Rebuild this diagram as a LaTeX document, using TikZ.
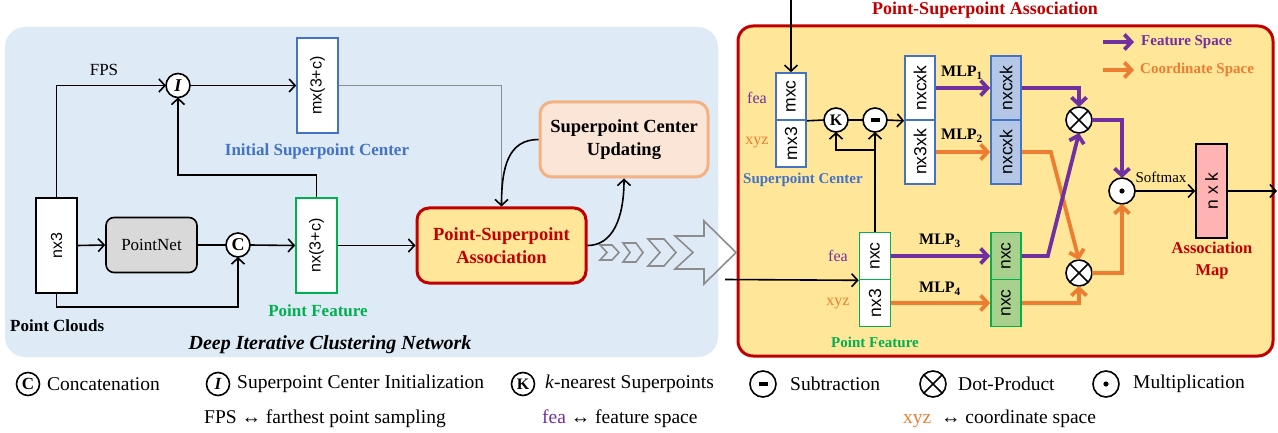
\documentclass[tikz,border=0pt]{standalone}
\usepackage{fontspec}
\setmainfont{Liberation Serif}
\setsansfont{Liberation Sans}
\usetikzlibrary{arrows.meta,calc}
\definecolor{bgblue}{HTML}{DEEBF7}
\definecolor{pyellow}{HTML}{FFE699}
\definecolor{dred}{HTML}{C00000}
\definecolor{cblue}{HTML}{4472C4}
\definecolor{cgreen}{HTML}{00B050}
\definecolor{cpurple}{HTML}{7030A0}
\definecolor{corange}{HTML}{ED7D31}
\definecolor{pgray}{HTML}{D9D9D9}
\definecolor{scufill}{HTML}{FBE5D6}
\definecolor{scudraw}{HTML}{F4B183}
\definecolor{bfill}{HTML}{B4C7E7}
\definecolor{gfill}{HTML}{A9D18E}
\definecolor{pinkf}{HTML}{FFB3B3}
\definecolor{lgray}{HTML}{8C8C8C}
\newcommand\fz[2]{\fontsize{#1}{#2}\selectfont}
\newcommand\rt[1]{\rotatebox{90}{#1}}
\begin{document}
\begin{tikzpicture}[x=1pt,y=-1pt,
  box/.style={draw, line width=1.6pt, fill=white, inner sep=0pt, font=\sffamily\fz{16}{19}},
  lbl/.style={inner sep=0pt},
  circ/.style={circle, draw, line width=1.6pt, fill=white, minimum size=24pt, inner sep=0pt, outer sep=0pt},
  ln/.style={line width=1.6pt},
  arr/.style={line width=1.6pt, -{Straight Barb[length=6pt,width=13pt]}},
  farr/.style={line width=3.8pt, -{Straight Barb[length=7pt,width=15pt]}},
  leg/.style={inner sep=0pt, anchor=west, font=\fz{19.5}{23}}
]
\useasboundingbox (0,0) rectangle (1278,433);
% panels
\fill[bgblue, rounded corners=20pt] (5,27) rectangle (718,357);
\draw[line width=3pt, draw=dred, fill=pyellow, rounded corners=15pt] (738,26) rectangle (1273,356);
\node[lbl, text=dred, font=\bfseries\fz{18}{21}] (ttl) at (985,10) {Point-Superpoint Association};

% ---------- left panel ----------
\node[box, minimum width=41pt, minimum height=95pt] (pc) at (56.5,245.5) {\rt{nx3}};
\node[lbl, anchor=west, font=\bfseries\fz{17}{20}] (pcl) at (10,326) {Point Clouds};
\node[circ, font=\bfseries\itshape\fz{18}{20}] (ci) at (178,85.5) {I};
\node[lbl, font=\fz{17}{20}] (fpsl) at (104,70) {FPS};
\node[box, draw=cblue, minimum width=41pt, minimum height=95pt] (msc) at (317.5,85.5) {\rt{mx(3+c)}};
\node[lbl, text=cblue, font=\bfseries\fz{17}{20}] (iscl) at (317,151) {Initial Superpoint Center};
\node[draw, rounded corners=8pt, fill=pgray, line width=1.6pt, minimum width=91pt, minimum height=55pt, inner sep=0pt, font=\fz{17}{20}] (pn) at (151.5,245) {PointNet};
\node[circ, font=\bfseries\fz{18}{20}] (cc) at (238,245) {C};
\node[box, draw=cgreen, minimum width=41pt, minimum height=95pt] (pf) at (316.5,245.5) {\rt{nx(3+c)}};
\node[lbl, text=cgreen, font=\bfseries\fz{17}{20}] (pfl) at (318,311) {Point Feature};
\node[draw=dred, fill=pyellow, line width=3pt, rounded corners=12pt, minimum width=169pt, minimum height=75pt, inner sep=0pt, align=center, text=dred, font=\bfseries\fz{18.5}{23}] (psa) at (501.5,245.5) {Point-Superpoint\\Association};
\node[draw=scudraw, fill=scufill, line width=3pt, rounded corners=12pt, minimum width=168pt, minimum height=75pt, inner sep=0pt, align=center, font=\bfseries\fz{18.5}{23}] (scu) at (624,139.5) {Superpoint Center\\Updating};
\node[lbl, font=\bfseries\itshape\fz{20}{23}] (dicn) at (330,345) {Deep Iterative Clustering Network};

\draw[arr] (pc.north) |- (ci.west);
\draw[arr] (ci.east) -- (msc.west);
\draw[ln, draw=lgray] (msc.east) -| (psa.north);
\draw[arr] (scu.west) .. controls +(-30,0) and +(0,-40) .. (psa.north);
\draw[arr] (psa.east) .. controls +(25,0) and +(0,40) .. (scu.south);
\draw[arr] (pc.east) -- (pn.west);
\draw[ln] (pn.east) -- (cc.west);
\draw[arr] (pc.south) -- ++(0,13) -| (cc.south);
\draw[arr] (cc.east) -- (pf.west);
\draw[arr] (pf.north) -- ++(0,-22) -| (ci.south);
\draw[arr] (pf.east) -- (psa.west);

% chevrons
\begin{scope}[draw=lgray, line width=1.6pt, line join=miter]
\draw (600,245) -- (612,245) -- (619,252.5) -- (612,260) -- (600,260) -- (607,252.5) -- cycle;
\draw (623,243) -- (636,243) -- (643,252.5) -- (636,262) -- (623,262) -- (630,252.5) -- cycle;
\draw (648,239) -- (664,239) -- (676,252.5) -- (664,266) -- (648,266) -- (660,252.5) -- cycle;
\draw (675,236) -- (704,236) -- (704,221) -- (736,252.5) -- (704,284) -- (704,269) -- (675,269) -- (693,252.5) -- cycle;
\end{scope}

% ---------- right panel ----------
\node[box, draw=cblue, minimum width=30pt, minimum height=47pt, font=\sffamily\fz{17.5}{20}] (mxc) at (791,96.5) {\rt{mxc}};
\node[box, draw=cblue, minimum width=30pt, minimum height=47pt, font=\sffamily\fz{17.5}{20}] (mx3) at (791,143.5) {\rt{mx3}};
\coordinate (topin) at (791,0);
\node[lbl, text=cpurple, font=\fz{16}{19}] (fea1) at (757,98) {fea};
\node[lbl, text=corange, font=\fz{16}{19}] (xyz1) at (757,143) {xyz};
\node[lbl, text=cblue, font=\bfseries\fz{15}{18}] (spcl) at (803,180) {Superpoint Center};
\node[circ, font=\bfseries\fz{16}{19}] (kk) at (836,120) {K};
\node[circ] (mm) at (875,120) {\rule{9pt}{3.5pt}};

\node[box, draw=cblue, minimum width=30pt, minimum height=64pt, font=\sffamily\fz{17.5}{20}] (b1) at (920,88) {\rt{nxcxk}};
\node[box, draw=cblue, minimum width=30pt, minimum height=64pt, font=\sffamily\fz{17.5}{20}] (b2) at (920,152) {\rt{nx3xk}};
\node[box, draw=cblue, fill=bfill, minimum width=30pt, minimum height=64pt, font=\sffamily\fz{17.5}{20}] (b3) at (1006,88) {\rt{nxcxk}};
\node[box, draw=cblue, fill=bfill, minimum width=30pt, minimum height=64pt, font=\sffamily\fz{17.5}{20}] (b4) at (1006,152) {\rt{nxcxk}};

\node[box, draw=cgreen, minimum width=31pt, minimum height=47pt, font=\sffamily\fz{17.5}{20}] (pa) at (875,256) {\rt{nxc}};
\node[box, draw=cgreen, minimum width=31pt, minimum height=47pt, font=\sffamily\fz{17.5}{20}] (pb) at (875,303) {\rt{nx3}};
\node[lbl, text=cpurple, font=\fz{16}{19}] (fea2) at (838,256) {fea};
\node[lbl, text=corange, font=\fz{16}{19}] (xyz2) at (838,304) {xyz};
\node[lbl, text=cgreen, font=\bfseries\fz{15}{18}] (pfl2) at (875,342) {Point Feature};

\node[box, draw=cgreen, fill=gfill, minimum width=30pt, minimum height=47pt, font=\sffamily\fz{17.5}{20}] (g1) at (1006,256) {\rt{nxc}};
\node[box, draw=cgreen, fill=gfill, minimum width=30pt, minimum height=47pt, font=\sffamily\fz{17.5}{20}] (g2) at (1006,303) {\rt{nxc}};

\node[lbl, font=\bfseries\fz{16}{19}] (mlp1) at (962,73) {MLP\textsubscript{1}};
\node[lbl, font=\bfseries\fz{16}{19}] (mlp2) at (962,136) {MLP\textsubscript{2}};
\node[lbl, font=\bfseries\fz{16}{19}] (mlp3) at (940,241) {MLP\textsubscript{3}};
\node[lbl, font=\bfseries\fz{16}{19}] (mlp4) at (940,289) {MLP\textsubscript{4}};

\node[circ, minimum size=26pt] (o1) at (1079,120) {};
\node[circ, minimum size=26pt] (o2) at (1079,273) {};
\node[circ, minimum size=26pt] (od) at (1122,191) {};
\draw[ln] (o1.north east) -- (o1.south west) (o1.north west) -- (o1.south east);
\draw[ln] (o2.north east) -- (o2.south west) (o2.north west) -- (o2.south east);
\fill (od.center) circle (2.6pt);

\node[box, fill=pinkf, minimum width=31pt, minimum height=94pt, font=\sffamily\fz{17.5}{20}] (nk) at (1211.5,191) {\rt{n x k}};
\node[lbl, font=\fz{15}{18}] (smx) at (1161,177) {Softmax};
\node[lbl, align=center, text=dred, font=\bfseries\fz{16.5}{22}] (aml) at (1212,261) {Association\\Map};
\coordinate (outr) at (1277,191);
\coordinate (inl) at (725,279.5);
\coordinate (kj) at (875,150);

\draw[arr] (topin) -- (mxc.north);
\draw[ln] (mxc.south east) -- (kk.west);
\draw[ln] (kk.east) -- (mm.west);
\draw[arr] (mm.east) -- (b1.south west);
\draw[arr] (pa.north) -- (mm.south);
\draw[arr] (kj) -| (kk.south);
\draw[arr] (inl) -- (pa.south west);

\draw[farr, draw=cpurple] (b1.east) -- (b3.west);
\draw[farr, draw=corange] (b2.east) -- (b4.west);
\draw[farr, draw=cpurple] (pa.east) -- (g1.west);
\draw[farr, draw=corange] (pb.east) -- (g2.west);
\draw[farr, draw=cpurple] (b3.east) -| (o1.north);
\draw[farr, draw=corange] (b4.east) -- ++(29,0) -- (o2.north);
\draw[farr, draw=cpurple] (g1.east) -- ++(26,0) -- (o1.south);
\draw[farr, draw=corange] (g2.east) -| (o2.south);
\draw[farr, draw=cpurple] (o1.east) -| (od.north);
\draw[farr, draw=corange] (o2.east) -| (od.south);
\draw[arr] (od.east) -- (nk.west);
\draw[arr] (nk.east) -- (outr);

% top-right legend
\coordinate (lf) at (1103,42);
\coordinate (lc) at (1103,70);
\node[lbl, anchor=west, text=cpurple, font=\bfseries\fz{15}{18}] (lft) at (1141,42) {Feature Space};
\node[lbl, anchor=west, text=corange, font=\bfseries\fz{15}{18}] (lct) at (1140,70) {Coordinate Space};
\draw[farr, draw=cpurple, shorten >=7pt] (lf) -- (lft.west);
\draw[farr, draw=corange, shorten >=6pt] (lc) -- (lct.west);

% ---------- bottom legend ----------
\node[circ, minimum size=23pt, font=\bfseries\fz{17}{20}] (lgc) at (28,384) {C};
\node[leg] (lgct) at (47,384) {Concatenation};
\node[circ, minimum size=23pt, font=\bfseries\itshape\fz{17}{20}] (lgi) at (218,384) {I};
\node[leg] (lgit) at (237,384) {Superpoint Center Initialization};
\node[circ, minimum size=23pt, font=\bfseries\fz{16}{19}] (lgk) at (523,384) {K};
\node[leg] (lgkt) at (545,384) {\textit{k}-nearest Superpoints};
\node[circ, minimum size=26pt] (lgm) at (763,384) {\rule{9pt}{3.5pt}};
\node[leg] (lgmt) at (790,384) {Subtraction};
\node[circ, minimum size=26pt] (lgo) at (933,384) {};
\draw[ln] (lgo.north east) -- (lgo.south west) (lgo.north west) -- (lgo.south east);
\node[leg] (lgot) at (958,384) {Dot-Product};
\node[circ, minimum size=26pt] (lgd) at (1106,384) {};
\fill (lgd.center) circle (2.6pt);
\node[leg] (lgdt) at (1133,384) {Multiplication};
\node[leg] (r2a) at (204,419) {FPS ↔ farthest point sampling};
\node[leg] (r2b) at (542,419) {\textcolor{cpurple}{fea} ↔ feature space};
\node[leg] (r2c) at (903,419) {\textcolor{corange}{xyz}\ \ ↔ coordinate space};
\end{tikzpicture}
\end{document}
